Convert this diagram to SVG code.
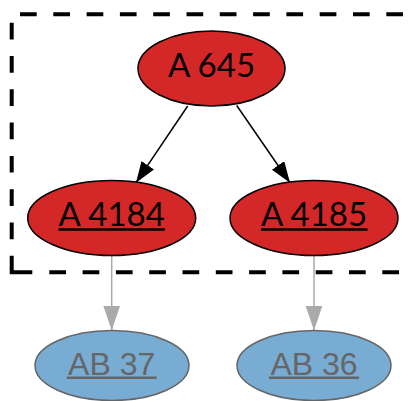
<svg xmlns="http://www.w3.org/2000/svg" width="411" height="401" viewBox="0 0 411 401">
  <style>
    .frame { fill: none; stroke: #000; stroke-width: 4; stroke-dasharray: 16.7 16.6; }
    .corner { fill: none; stroke: #000; stroke-width: 4; stroke-linejoin: miter; }
    .red ellipse { fill: #d42727; stroke: #000; stroke-width: 1.5; }
    .red text { font-family: Lato, "Liberation Sans", sans-serif; font-size: 33px; fill: #000; text-anchor: middle; }
    .blue ellipse { fill: #78acd3; stroke: #666; stroke-width: 1.5; }
    .blue text { font-family: "Liberation Sans", Arial, sans-serif; font-size: 32px; fill: #666; text-anchor: middle; }
    .ul-dark { stroke: #000; stroke-width: 2.5; }
    .ul-gray { stroke: #666; stroke-width: 2.5; }
    .edge-dark { stroke: #000; stroke-width: 1.5; fill: none; marker-end: url(#headDark); }
    .edge-gray { stroke: #aaa; stroke-width: 1.5; fill: none; marker-end: url(#headGray); }
  </style>
  <defs>
    <marker id="headDark" markerUnits="userSpaceOnUse" markerWidth="22" markerHeight="16" refX="21" refY="7.5" orient="auto">
      <path d="M0,0 L21,7.5 L0,15 Z" fill="#000"/>
    </marker>
    <marker id="headGray" markerUnits="userSpaceOnUse" markerWidth="26" markerHeight="18" refX="25" refY="8.5" orient="auto">
      <path d="M0,0 L25,8.5 L0,17 Z" fill="#aaa"/>
    </marker>
  </defs>

  <!-- cluster frame (dashed) -->
  <g id="cluster">
    <line class="frame" x1="20" y1="14.3" x2="411" y2="14.3"/>
    <line class="frame" x1="11.7" y1="22.7" x2="11.7" y2="256"/>
    <path class="corner" d="M11.7,256 V272.3 H32.3"/>
    <line class="frame" x1="49.3" y1="272.3" x2="411" y2="272.3"/>
  </g>

  <!-- connectors -->
  <g id="edges">
    <line class="edge-dark" x1="187.7" y1="106" x2="136" y2="182.7"/>
    <line class="edge-dark" x1="236.7" y1="105.5" x2="290" y2="182.7"/>
    <line class="edge-gray" x1="111.7" y1="255.7" x2="111.7" y2="330.5"/>
    <line class="edge-gray" x1="314" y1="255.7" x2="314" y2="330.5"/>
  </g>

  <g id="n_A645" class="red">
    <ellipse cx="211.5" cy="68.5" rx="73.5" ry="37.5"/>
    <text x="211.5" y="77">A 645</text>
  </g>

  <g id="n_A4184" class="red">
    <ellipse cx="111.7" cy="218" rx="84" ry="37.5"/>
    <text x="111.7" y="226">A 4184</text>
    <line class="ul-dark" x1="58.5" y1="229.5" x2="165" y2="229.5"/>
  </g>

  <g id="n_A4185" class="red">
    <ellipse cx="314" cy="218" rx="84" ry="37.5"/>
    <text x="314" y="226">A 4185</text>
    <line class="ul-dark" x1="261" y1="229.5" x2="367.5" y2="229.5"/>
  </g>

  <g id="n_AB37" class="blue">
    <ellipse cx="112" cy="365.5" rx="77" ry="35"/>
    <text x="111.7" y="374.5">AB 37</text>
    <line class="ul-gray" x1="66.7" y1="377.8" x2="156.7" y2="377.8"/>
  </g>

  <g id="n_AB36" class="blue">
    <ellipse cx="314" cy="365.5" rx="77" ry="35"/>
    <text x="314" y="374.5">AB 36</text>
    <line class="ul-gray" x1="269" y1="377.8" x2="359" y2="377.8"/>
  </g>
</svg>
